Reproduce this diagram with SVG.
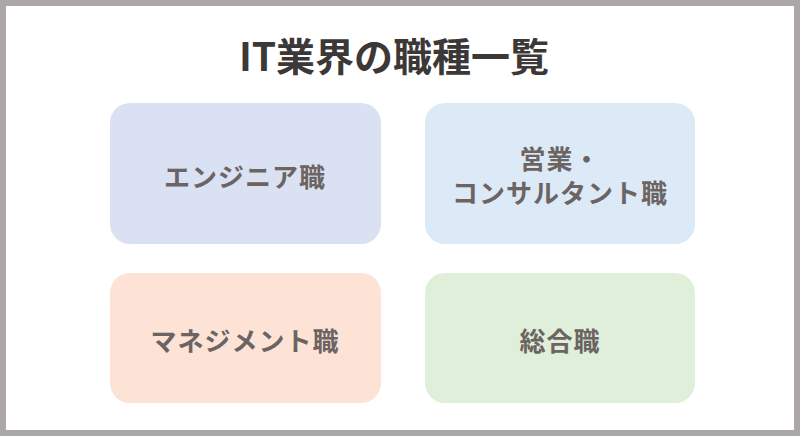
<svg xmlns="http://www.w3.org/2000/svg" width="800" height="436" viewBox="0 0 800 436">
<style>
text{font-family:"Noto Sans CJK JP","Noto Sans",sans-serif;font-weight:bold;text-anchor:middle}
.l{font-size:26px;letter-spacing:1px;fill:#6b6462}
</style>
<rect x="3" y="3" width="794" height="430" fill="#fff" stroke="#aba7a6" stroke-width="6"/>
<text x="394" y="71" font-size="39" fill="#3b3837">IT業界の職種一覧</text>
<g id="n1"><rect x="110" y="103" width="271" height="141" rx="20" fill="#d9e1f2"/><text class="l" x="245" y="187">エンジニア職</text></g>
<g id="n2"><rect x="425" y="103" width="270" height="141" rx="20" fill="#dce9f6"/><text class="l" x="560" y="169">営業・</text><text class="l" x="560" y="203">コンサルタント職</text></g>
<g id="n3"><rect x="110" y="273" width="271" height="130" rx="20" fill="#fce3d6"/><text class="l" x="245" y="351">マネジメント職</text></g>
<g id="n4"><rect x="425" y="273" width="270" height="130" rx="20" fill="#e0efd9"/><text class="l" x="560" y="351">総合職</text></g>
<g id="connectors"/>
</svg>
